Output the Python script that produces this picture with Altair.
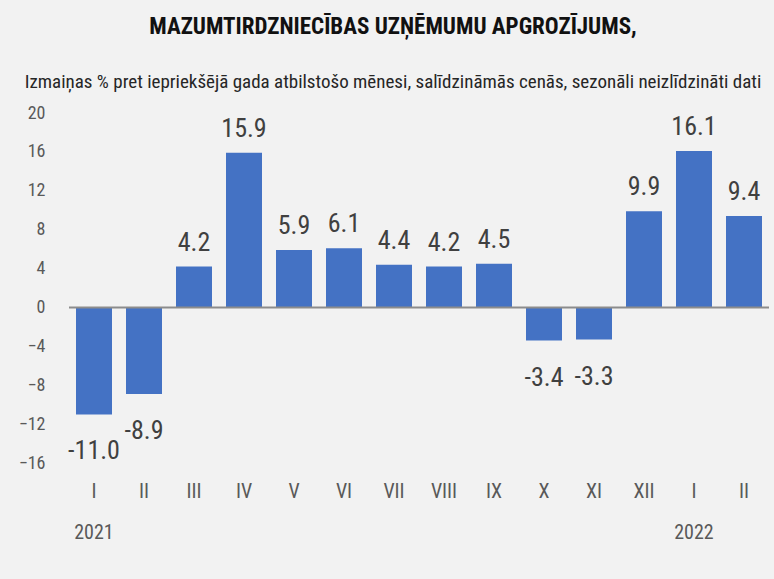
import altair as alt
import pandas as pd

months = ["I", "II", "III", "IV", "V", "VI", "VII", "VIII", "IX", "X", "XI", "XII", "I", "II"]
years = ["2021"] * 12 + ["2022"] * 2
values = [-11.0, -8.9, 4.2, 15.9, 5.9, 6.1, 4.4, 4.2, 4.5, -3.4, -3.3, 9.9, 16.1, 9.4]
y_ticks = [-16, -12, -8, -4, 0, 4, 8, 12, 16, 20]
year_labels = ["2021", "2022"]
year_label_keys = ["2021-I", "2022-I"]

FONT = "Roboto Condensed, Liberation Sans Narrow, Lato, sans-serif"

keys = [f"{y}-{m}" for y, m in zip(years, months)]
df = pd.DataFrame({"key": keys, "month": months, "year": years, "value": values})
df["label"] = df["value"].map(lambda v: f"{v:.1f}")
ydf = pd.DataFrame({"key": year_label_keys, "year": year_labels})

x_scale = alt.Scale(paddingInner=0.28, paddingOuter=0.14)
y_scale = alt.Scale(domain=[-16, 20], nice=False)

x_axis = alt.Axis(
    title=None,
    labelExpr="split(datum.value, '-')[1]",
    labelAngle=0,
    ticks=False,
    domain=False,
    labelPadding=18,
    labelFontSize=20,
    labelColor="#595959",
    labelFont=FONT,
    labelBaseline="top",
    labelOverlap=False,
)
y_axis = alt.Axis(
    title=None,
    values=y_ticks,
    grid=False,
    ticks=False,
    domain=False,
    labelPadding=24,
    labelFontSize=18,
    labelColor="#595959",
    labelFont=FONT,
    labelOverlap=False,
    labelFlush=False,
)

x_enc = alt.X("key:N", sort=keys, scale=x_scale, axis=x_axis)
y_enc = alt.Y("value:Q", scale=y_scale, axis=y_axis)

base = alt.Chart(df)

bars = base.mark_bar(color="#4472c4").encode(x=x_enc, y=y_enc)

zero = alt.Chart(pd.DataFrame({"value": [0]})).mark_rule(color="#8c8c8c", strokeWidth=2).encode(
    y=y_enc,
    x=alt.value(0),
    x2=alt.value(700),
)

pos_labels = base.transform_filter("datum.value >= 0").mark_text(
    baseline="bottom", dy=-11, fontSize=26, font=FONT, color="#404040"
).encode(x=x_enc, y=y_enc, text="label:N")

neg_labels = base.transform_filter("datum.value < 0").mark_text(
    baseline="top", dy=24, fontSize=26, font=FONT, color="#404040"
).encode(x=x_enc, y=y_enc, text="label:N")

year_text = alt.Chart(ydf).mark_text(
    baseline="middle", fontSize=20, font=FONT, color="#595959"
).encode(x=x_enc, y=alt.value(420), text="year:N")

chart = (
    alt.layer(bars, zero, pos_labels, neg_labels, year_text)
    .properties(
        width=700,
        height=350,
        autosize=alt.AutoSizeParams(type="none"),
        padding={"left": 69, "top": 113, "right": 5, "bottom": 116},
        background="#f2f2f2",
        title=alt.TitleParams(
            text="MAZUMTIRDZNIECĪBAS UZŅĒMUMU APGROZĪJUMS,",
            subtitle="Izmaiņas % pret iepriekšējā gada atbilstošo mēnesi, salīdzināmās cenās, sezonāli neizlīdzināti dati",
            anchor="middle",
            dx=-26,
            offset=12,
            font=FONT,
            fontSize=23,
            fontWeight="bold",
            color="#111111",
            subtitleFont=FONT,
            subtitleFontSize=19,
            subtitleColor="#262626",
            subtitlePadding=34,
        ),
    )
    .configure_view(stroke=None)
)

chart.save("out.html", embed_options={"renderer": "svg", "actions": False})
